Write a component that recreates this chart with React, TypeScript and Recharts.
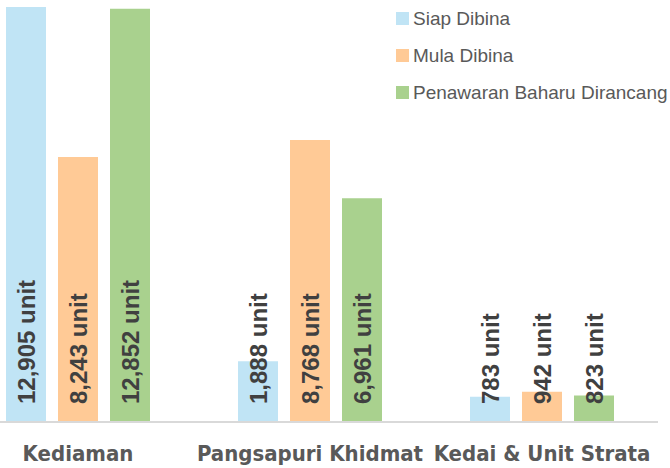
import { BarChart, Bar, XAxis, YAxis, Legend, LabelList } from 'recharts';

const categories = ['Kediaman', 'Pangsapuri Khidmat', 'Kedai & Unit Strata'];
const siapDibina = [12905, 1888, 783];
const mulaDibina = [8243, 8768, 942];
const penawaranBaharu = [12852, 6961, 823];

const seriesNames = ['Siap Dibina', 'Mula Dibina', 'Penawaran Baharu Dirancang'];
const seriesColors = ['#C0E4F5', '#FFCA96', '#A9D18E'];

const data = categories.map((name, i) => ({
  name,
  [seriesNames[0]]: siapDibina[i],
  [seriesNames[1]]: mulaDibina[i],
  [seriesNames[2]]: penawaranBaharu[i],
}));

const BarLabel = (props: any) => {
  const { x, y, width, height, value } = props;
  const cx = x + width / 2 + 9;
  const bottom = y + height - 18;
  return (
    <text
      x={cx}
      y={bottom}
      transform={`rotate(-90 ${cx} ${bottom})`}
      textAnchor="start"
      fontFamily="'Liberation Sans', Arial, sans-serif"
      fontWeight="bold"
      fontSize={24}
      fill="#404040"
    >
      {`${Number(value).toLocaleString('en-US')} unit`}
    </text>
  );
};

const CategoryTick = (props: any) => {
  const { x, y, payload } = props;
  return (
    <text
      x={x}
      y={y + 39}
      textAnchor="middle"
      fontFamily="'DejaVu Sans Condensed', 'DejaVu Sans', sans-serif"
      fontWeight="bold"
      fontSize={22}
      fill="#595959"
    >
      {payload.value}
    </text>
  );
};

const LegendBox = () => (
  <div style={{ fontFamily: "'Liberation Sans', Arial, sans-serif", fontSize: 19, color: '#595959' }}>
    {seriesNames.map((name, i) => (
      <div key={name} style={{ display: 'flex', alignItems: 'center', height: 37 }}>
        <span
          style={{ width: 13, height: 13, background: seriesColors[i], marginRight: 4, display: 'inline-block' }}
        />
        <span style={{ whiteSpace: 'nowrap' }}>{name}</span>
      </div>
    ))}
  </div>
);

export default function App() {
  return (
    <div
      style={{
        position: 'absolute',
        left: 0,
        top: 0,
        width: 670,
        height: 468,
        overflow: 'hidden',
        background: '#fff',
      }}
    >
      <div style={{ position: 'absolute', left: -38, top: 0 }}>
        <BarChart
          width={696}
          height={468}
          data={data}
          margin={{ top: 7, right: 0, left: 0, bottom: 6 }}
          barSize={40}
          barGap={12}
        >
          <XAxis
            dataKey="name"
            height={40}
            axisLine={{ stroke: '#D9D9D9', strokeWidth: 2 }}
            tickLine={false}
            tickSize={0}
            tickMargin={0}
            tick={<CategoryTick />}
            interval={0}
          />
          <YAxis hide domain={[0, 12905]} />
          <Legend
            layout="vertical"
            verticalAlign="middle"
            align="center"
            content={<LegendBox />}
            wrapperStyle={{ position: 'absolute', left: 434, top: 0, width: 300 }}
          />
          {seriesNames.map((name, i) => (
            <Bar key={name} dataKey={name} fill={seriesColors[i]} isAnimationActive={false}>
              <LabelList dataKey={name} content={<BarLabel />} />
            </Bar>
          ))}
        </BarChart>
      </div>
    </div>
  );
}
